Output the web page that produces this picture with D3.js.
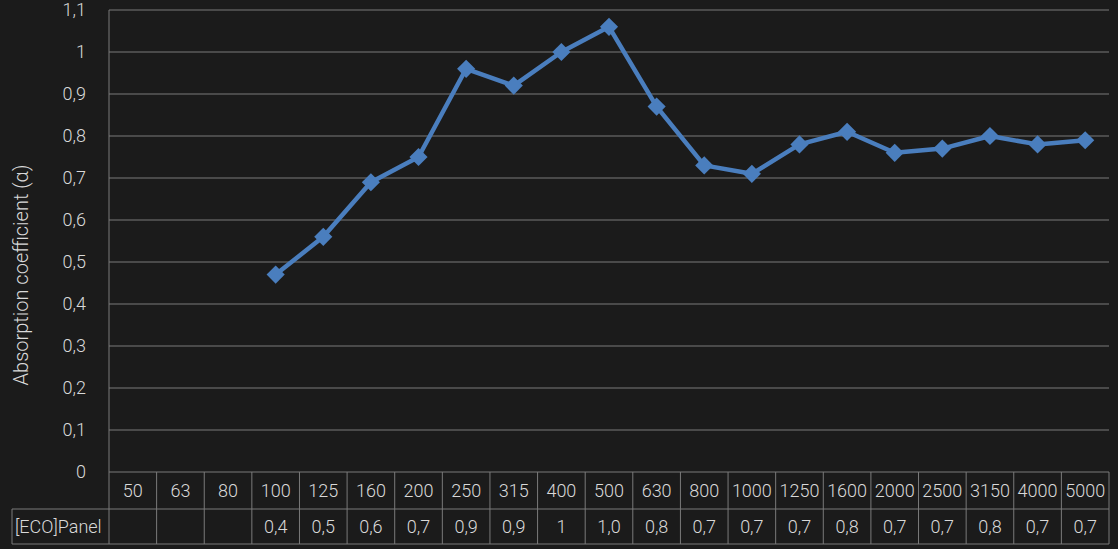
<!DOCTYPE html>
<html>
<head>
<meta charset="utf-8">
<script src="https://cdn.jsdelivr.net/npm/d3@7"></script>
<style>
  html, body { margin: 0; padding: 0; background: #1b1b1b; }
  svg { display: block; font-family: Roboto, "Open Sans", sans-serif; font-weight: 300; }
</style>
</head>
<body>
<script>
// frequencies (Hz) along the bottom
var freqs = ["50","63","80","100","125","160","200","250","315","400","500","630","800","1000","1250","1600","2000","2500","3150","4000","5000"]
// absorption coefficient, null where there is no value
var alpha = [null,null,null,0.47,0.56,0.69,0.75,0.96,0.92,1.00,1.06,0.87,0.73,0.71,0.78,0.81,0.76,0.77,0.80,0.78,0.79]
// values printed in the data table row
var tableLabels = ["","","","0,4","0,5","0,6","0,7","0,9","0,9","1","1,0","0,8","0,7","0,7","0,7","0,8","0,7","0,7","0,8","0,7","0,7"]
var yTicks = [0,0.1,0.2,0.3,0.4,0.5,0.6,0.7,0.8,0.9,1,1.1]
var seriesName = "[ECO]Panel"

var W = 1118, H = 549
var margin = {top: 10, left: 109, right: 9}
var plotBottom = 472
var row1 = 509, row2 = 544
var gridCol = "#7a7a7a", textCol = "#d9d9d9", lineCol = "#4a7ebe"

var svg = d3.select("body").append("svg")
  .attr("width", W).attr("height", H)

var x = d3.scaleBand()
  .domain(freqs)
  .range([margin.left, W - margin.right])

var y = d3.scaleLinear()
  .domain([0, 1.1])
  .range([plotBottom, margin.top])

var fmt = function(d){ return d3.format("~g")(d).replace(".", ",") }

// horizontal gridlines
svg.append("g").selectAll("line")
  .data(yTicks).enter().append("line")
  .attr("x1", margin.left).attr("x2", W - margin.right)
  .attr("y1", function(d){ return y(d) }).attr("y2", function(d){ return y(d) })
  .attr("stroke", gridCol).attr("stroke-width", 1)

// y axis line, runs down through the table
svg.append("line")
  .attr("x1", margin.left).attr("x2", margin.left)
  .attr("y1", y(1.1)).attr("y2", row2)
  .attr("stroke", gridCol)

// y tick labels
svg.append("g").selectAll("text")
  .data(yTicks).enter().append("text")
  .attr("x", 86).attr("y", function(d){ return y(d) })
  .attr("dy", "0.35em")
  .attr("text-anchor", "end")
  .attr("fill", textCol).attr("font-size", 18)
  .text(fmt)

// axis title
svg.append("text")
  .attr("transform", "translate(28,275) rotate(-90)")
  .attr("text-anchor", "middle")
  .attr("fill", textCol).attr("font-size", 20)
  .text("Absorption coefficient (α)")

// the line and markers
var pts = freqs.map(function(f, i){ return {f: f, v: alpha[i]} })
var line = d3.line()
  .defined(function(d){ return d.v != null })
  .x(function(d){ return x(d.f) + x.bandwidth() / 2 })
  .y(function(d){ return y(d.v) })

svg.append("path")
  .datum(pts)
  .attr("d", line)
  .attr("fill", "none")
  .attr("stroke", lineCol)
  .attr("stroke-width", 4.5)
  .attr("stroke-linejoin", "round")

var diamond = d3.symbol().type(d3.symbolDiamond2).size(210)
svg.append("g").selectAll("path")
  .data(pts.filter(function(d){ return d.v != null }))
  .enter().append("path")
  .attr("d", diamond)
  .attr("transform", function(d){
    return "translate(" + (x(d.f) + x.bandwidth() / 2) + "," + y(d.v) + ")"
  })
  .attr("fill", lineCol)

// data table
var tbl = svg.append("g").attr("stroke", gridCol).attr("fill", "none")
tbl.append("line").attr("x1", margin.left).attr("x2", W - margin.right)
  .attr("y1", row1).attr("y2", row1)
tbl.append("line").attr("x1", 12).attr("x2", W - margin.right)
  .attr("y1", row2).attr("y2", row2)
tbl.append("line").attr("x1", 12).attr("x2", margin.left)
  .attr("y1", row1).attr("y2", row1)
tbl.append("line").attr("x1", 12).attr("x2", 12)
  .attr("y1", row1).attr("y2", row2)
tbl.selectAll("line.col")
  .data(freqs).enter().append("line")
  .attr("class", "col")
  .attr("x1", function(d){ return x(d) + x.bandwidth() })
  .attr("x2", function(d){ return x(d) + x.bandwidth() })
  .attr("y1", plotBottom).attr("y2", row2)

svg.append("g").selectAll("text")
  .data(freqs).enter().append("text")
  .attr("x", function(d){ return x(d) + x.bandwidth() / 2 })
  .attr("y", (plotBottom + row1) / 2)
  .attr("dy", "0.35em")
  .attr("text-anchor", "middle")
  .attr("fill", textCol).attr("font-size", 18)
  .text(function(d){ return d })

svg.append("g").selectAll("text")
  .data(freqs).enter().append("text")
  .attr("x", function(d){ return x(d) + x.bandwidth() / 2 })
  .attr("y", (row1 + row2) / 2)
  .attr("dy", "0.35em")
  .attr("text-anchor", "middle")
  .attr("fill", textCol).attr("font-size", 18)
  .text(function(d, i){ return tableLabels[i] })

svg.append("text")
  .attr("x", 15).attr("y", (row1 + row2) / 2)
  .attr("dy", "0.35em")
  .attr("fill", textCol).attr("font-size", 18)
  .text(seriesName)
</script>
</body>
</html>
